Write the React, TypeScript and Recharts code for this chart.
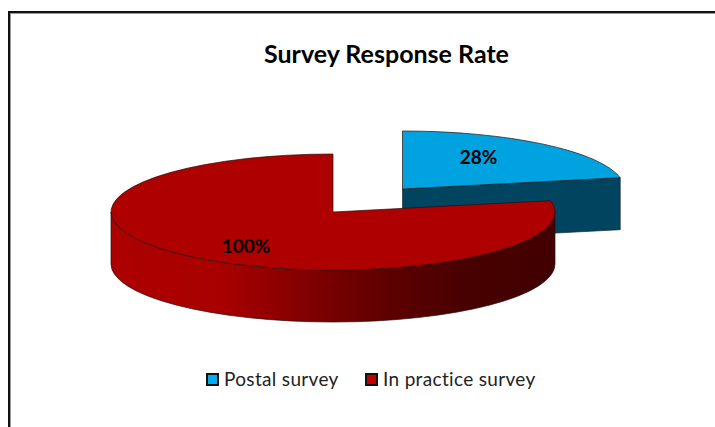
import React from "react";
import { PieChart, Pie, Legend } from "recharts";

const categories = ["Postal survey", "In practice survey"];
const responseRates = [28, 100];
const labelTexts = ["28%", "100%"];
const sliceColors = ["#00A3DF", "#AF0000"];
const wallColors = ["#004460", "url(#redWall)"];
const legendColors = ["#00AEEF", "#BE0000"];

const rows = categories.map((name, i) => ({
  name,
  value: responseRates[i],
  fill: sliceColors[i],
  wall: wallColors[i],
  text: labelTexts[i],
}));

const WIDTH = 715;
const HEIGHT = 427;
const CX = 333;
const CY = 212;
const RX = 222;
const RY = 58;
const DEPTH = 52;
const FONT = "Lato, 'Open Sans', sans-serif";
const EXPLODE: Record<string, [number, number]> = {
  "Postal survey": [69.5, -23],
  "In practice survey": [0, 0],
};
const LABEL_SHIFT: Record<string, [number, number]> = {
  "Postal survey": [76, -33],
  "In practice survey": [-87, 33],
};

const rad = (a: number) => (a * Math.PI) / 180;

function Slice3D(props: any) {
  const { cx, cy, outerRadius, startAngle, endAngle, fill, payload } = props;
  const name = payload?.name ?? props.name;
  const wall = payload?.wall ?? props.wall;
  const [dx, dy] = EXPLODE[name] ?? [0, 0];
  const k = RY / RX;
  const x0 = cx + dx;
  const y0 = cy + dy;
  const px = (a: number) => x0 + outerRadius * Math.cos(rad(a));
  const py = (a: number) => y0 - outerRadius * k * Math.sin(rad(a));
  const ry = outerRadius * k;
  const large = Math.abs(startAngle - endAngle) > 180 ? 1 : 0;
  const top = `M${x0},${y0} L${px(startAngle)},${py(startAngle)} A${outerRadius},${ry} 0 ${large} 1 ${px(endAngle)},${py(endAngle)} Z`;
  const edge = "#2a1010";
  const parts: React.ReactNode[] = [];
  if (Math.cos(rad(endAngle)) > 0.01) {
    parts.push(
      <path
        key="end"
        d={`M${x0},${y0} L${px(endAngle)},${py(endAngle)} L${px(endAngle)},${py(endAngle) + DEPTH} L${x0},${y0 + DEPTH} Z`}
        fill={wall}
        stroke="#1c2c36"
        strokeWidth={0.7}
      />
    );
  }
  if (endAngle < 0) {
    const a = Math.min(startAngle, 0);
    const b = Math.max(endAngle, -180);
    parts.push(
      <path
        key="front"
        d={`M${px(a)},${py(a)} A${outerRadius},${ry} 0 0 1 ${px(b)},${py(b)} L${px(b)},${py(b) + DEPTH} A${outerRadius},${ry} 0 0 0 ${px(a)},${py(a) + DEPTH} Z`}
        fill={wall}
        stroke={edge}
        strokeWidth={0.7}
      />
    );
  }
  return (
    <g>
      {parts}
      <path d={top} fill={fill} stroke={edge} strokeWidth={0.7} />
    </g>
  );
}

function sliceLabel(props: any) {
  const { cx, cy, name, payload, index } = props;
  const key = name ?? payload?.name ?? categories[index];
  const [sx, sy] = LABEL_SHIFT[key] ?? [0, 0];
  const [dx, dy] = EXPLODE[key] ?? [0, 0];
  return (
    <text
      x={cx + dx + sx}
      y={cy + dy + sy}
      textAnchor="middle"
      dominantBaseline="central"
      fontFamily={FONT}
      fontWeight={700}
      fontSize={19}
      fill="#000"
    >
      {rows[index]?.text ?? payload?.text}
    </text>
  );
}

function LegendBox({ payload }: any) {
  const items = payload ?? [];
  const lefts = [206, 365];
  return (
    <div style={{ position: "relative", height: 24, width: WIDTH, fontFamily: FONT, fontSize: 19, color: "#222" }}>
      {items.map((it: any, i: number) => (
        <div key={it.value} style={{ position: "absolute", left: lefts[i], top: 0, height: 24, whiteSpace: "nowrap" }}>
          <span
            style={{
              position: "absolute",
              left: 0,
              top: 5,
              width: 9,
              height: 9,
              border: "2px solid #111",
              background: legendColors[i],
            }}
          />
          <span style={{ position: "absolute", left: 18, top: -1, lineHeight: "24px", letterSpacing: 0.33 }}>{it.value}</span>
        </div>
      ))}
    </div>
  );
}

export default function App() {
  return (
    <div style={{ position: "absolute", left: 0, top: 0, width: WIDTH, height: HEIGHT, overflow: "hidden", background: "#fff" }}>
      <div
        style={{
          position: "absolute",
          left: 8,
          top: 11,
          width: 760,
          height: 470,
          borderLeft: "2px solid #111",
          borderTop: "2px solid #111",
          boxShadow: "inset 1px 1px 0 #999",
        }}
      />
      <div style={{ position: "absolute", left: 0, top: 0 }}>
        <PieChart width={WIDTH} height={HEIGHT} margin={{ top: 0, right: 0, bottom: 0, left: 0 }}>
          <defs>
            <linearGradient id="redWall" gradientUnits="userSpaceOnUse" x1={111} y1={0} x2={554} y2={0}>
              <stop offset="0" stopColor="#AD0000" />
              <stop offset="0.25" stopColor="#A80000" />
              <stop offset="0.45" stopColor="#800000" />
              <stop offset="0.62" stopColor="#600000" />
              <stop offset="0.8" stopColor="#480000" />
              <stop offset="1" stopColor="#420000" />
            </linearGradient>
          </defs>
          <text x={386.5} y={53} textAnchor="middle" dominantBaseline="central" fontFamily={FONT} fontWeight={700} fontSize={25} fill="#000">
            Survey Response Rate
          </text>
          <Pie
            data={rows}
            dataKey="value"
            nameKey="name"
            cx={CX}
            cy={CY}
            innerRadius={0}
            outerRadius={RX}
            startAngle={90}
            endAngle={-270}
            stroke="none"
            isAnimationActive={false}
            shape={Slice3D as any}
            label={sliceLabel as any}
            labelLine={false}
          />
          <Legend itemSorter={null} content={LegendBox as any} wrapperStyle={{ left: 0, top: 368, width: WIDTH, bottom: "auto" }} />
        </PieChart>
      </div>
    </div>
  );
}
